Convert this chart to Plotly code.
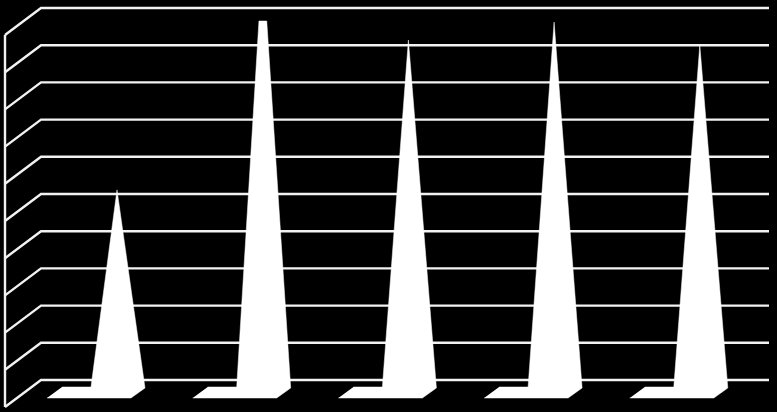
#
#   plot.py
#   white cone chart on black, fake 3D walls (no labels on the original)
#

import plotly.graph_objects as go

categories = [0, 1, 2, 3, 4]
values = [5.46, 11.67, 9.49, 9.97, 9.35]
grid_values = [0, 1, 2, 3, 4, 5, 6, 7, 8, 9, 10]

W, H = 777, 412
px_x = 145.7        # pixels per category
px_y = 37.2         # pixels per value unit
x0_px = 117         # first cone centre
y0_px = 380         # value 0 on the back wall

depth_x = 36 / px_x     # wall depth
depth_y = 27 / px_y
cone_y = 13 / px_y      # cones stand half way into the floor
wall_left = (41 - x0_px) / px_x
wall_right = (769 - x0_px) / px_x
y_max = grid_values[-1]

#   grid: slanted part on the side wall, then along the back wall
grid_x = []
grid_y = []
for g in grid_values:
    grid_x += [wall_left - depth_x, wall_left, wall_right, None]
    grid_y += [g - depth_y, g, g, None]
grid_x += [wall_left - depth_x, wall_left - depth_x]
grid_y += [grid_values[0] - depth_y, y_max - depth_y]

fig = go.Figure()
fig.add_trace(go.Scatter(x=grid_x, y=grid_y, mode='lines', hoverinfo='skip',
                         line=dict(color='#f2f2f2', width=2.4)))


def cone_outline(c, v):
    # base offsets are in pixels from the cone centre
    left = c - 26 / px_x
    right = c + 28 / px_x
    base = -7 / px_y
    front = -18 / px_y
    apex = v - cone_y
    top = y_max - cone_y
    if apex > top:      # taller than the axis, cut flat
        k = (apex - top) / (apex - base)
        xs = [c - (c - left) * k, c + (right - c) * k]
        ys = [top, top]
    else:
        xs = [c]
        ys = [apex]
    xs = [c - 55 / px_x, left] + xs + [right, c + 14 / px_x, c - 70 / px_x]
    ys = [base, base] + ys + [base - 1 / px_y, front, front]
    return xs, ys


for c, v in zip(categories, values):
    xs, ys = cone_outline(c, v)
    fig.add_trace(go.Scatter(x=xs, y=ys, mode='lines', fill='toself', fillcolor='#ffffff',
                             line=dict(color='#ffffff', width=0.5), hoverinfo='skip'))

fig.update_layout(width=W, height=H, margin=dict(l=0, r=0, t=0, b=0),
                  paper_bgcolor='#000000', plot_bgcolor='#000000', showlegend=False)
fig.update_xaxes(visible=False, range=[-x0_px / px_x, (W - x0_px) / px_x])
fig.update_yaxes(visible=False, range=[(y0_px - H) / px_y, y0_px / px_y])

#   page default margin would push the chart 8px in
fig.write_html("out.html", config=dict(displayModeBar=False),
               post_script="document.body.style.margin='0';document.body.style.background='#000';")
